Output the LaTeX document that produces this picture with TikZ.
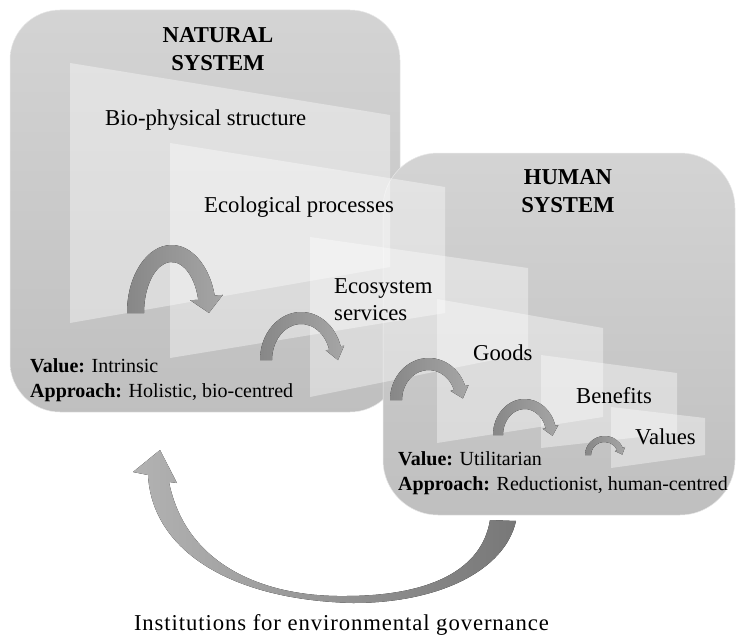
\documentclass[tikz,border=0pt]{standalone}
\usepackage{fontspec}
\setmainfont{Liberation Serif}
\usetikzlibrary{calc}
\tikzset{
  sysbox/.style={top color=black!17, bottom color=black!25, draw=black!9, line width=0.5pt},
  panel/.style={fill=white, fill opacity=0.38},
  loopfill/.style={left color=black!47, right color=black!35},
  govfill/.style={left color=black!30, right color=black!53},
  stage/.style={font=\fontsize{22.7}{27}\selectfont, inner sep=0pt, anchor=west, align=left},
  systitle/.style={font=\fontsize{22.7}{28}\selectfont\bfseries, inner sep=0pt, align=center},
  valnote/.style={font=\fontsize{20}{25}\selectfont, inner sep=0pt, anchor=west, align=left},
}
% curved arrow: centre x, base y, x radius, y radius, width, end angle, head half width, head length
\newcommand{\turnarrow}[8]{%
  \pgfmathsetmacro{\arEx}{#1+#3*cos(#6)}%
  \pgfmathsetmacro{\arEy}{#2+#4*sin(#6)}%
  \pgfmathsetmacro{\arL}{sqrt((#3*sin(#6))^2+(#4*cos(#6))^2)}%
  \pgfmathsetmacro{\arUx}{-#3*sin(#6)/\arL}%
  \pgfmathsetmacro{\arUy}{#4*cos(#6)/\arL}%
  \pgfmathsetmacro{\arIx}{#1+(#3-#5/2)*cos(#6)}%
  \pgfmathsetmacro{\arIy}{#2+(#4-#5/2)*sin(#6)}%
  \pgfmathsetmacro{\arSx}{#1-#3-#5/2}%
  \pgfmathsetmacro{\arRox}{#3+#5/2}\pgfmathsetmacro{\arRoy}{#4+#5/2}%
  \pgfmathsetmacro{\arRix}{#3-#5/2}\pgfmathsetmacro{\arRiy}{#4-#5/2}%
  \fill[loopfill] (\arSx,#2) arc[start angle=180, end angle=#6, x radius=\arRox, y radius=\arRoy]
    -- ({\arEx+#7*\arUy},{\arEy-#7*\arUx}) -- ({\arEx+#8*\arUx},{\arEy+#8*\arUy})
    -- ({\arEx-#7*\arUy},{\arEy+#7*\arUx}) -- (\arIx,\arIy)
    arc[start angle=#6, end angle=180, x radius=\arRix, y radius=\arRiy] -- cycle;
}

\begin{document}
\begin{tikzpicture}[x=1pt, y=-1pt]
  \useasboundingbox (0,0) rectangle (738,634);

  % feedback arrow
  \fill[govfill] (490,520) .. controls (482,570) and (430,596) .. (345,596)
    .. controls (265,597) and (186,566) .. (169,482) -- (177,483) -- (160,450)
    -- (133,472) -- (148,475) .. controls (152,550) and (230,600) .. (353,603)
    .. controls (440,603) and (505,570) .. (516,521) -- cycle;

  % the two systems
  \draw[sysbox, rounded corners=50pt] (10,10) rectangle (400,412);
  \draw[sysbox, rounded corners=55pt] (383,153) rectangle (735,515);

  % cascade planes
  \foreach \xl/\tl/\bl/\xr/\tr/\br in {70/63/323/390/115/267, 170/143/358/445/187/313,
      310/237/397/528/268/353, 437/299/443/603/328/417, 541/355/448/677/373/433,
      611/407/468/705/418/455}
    \fill[panel] (\xl,\tl) -- (\xr,\tr) -- (\xr,\br) -- (\xl,\bl) -- cycle;

  % steps between the planes
  \foreach \cx/\by/\ra/\rb/\w/\ea/\hw/\hl in {171.6/313/36.1/59.5/17/345/16.5/15.5,
      301.2/360/35.2/42/12/343.4/9.5/12.5, 428.7/400/32.7/36/12/340.5/9.5/11,
      524.7/435/26.7/31/10/345/8/9, 604.6/455/16.6/16/6/338/5.5/6}
    {\turnarrow{\cx}{\by}{\ra}{\rb}{\w}{\ea}{\hw}{\hl}}

  % labels
  \node[systitle] (natural) at (218,49) {NATURAL\\SYSTEM};
  \node[systitle] (human) at (568,191) {HUMAN\\SYSTEM};
  \node[stage] (bio) at (105,120) {Bio-physical structure};
  \node[stage] (eco) at (204,207) {Ecological processes};
  \node[stage] (ess) at (334,300) {Ecosystem\\services};
  \node[stage] (goods) at (473,353) {Goods};
  \node[stage] (benefits) at (576,396) {Benefits};
  \node[stage] (values) at (635,437) {Values};
  \node[valnote] (natval) at (30,380) {\textbf{Value:} Intrinsic\\\textbf{Approach:} Holistic, bio-centred};
  \node[valnote] (humval) at (398,473) {\textbf{Value:} Utilitarian\\\textbf{Approach:} Reductionist, human-centred};
  \node[font=\fontsize{22.7}{27}\selectfont\addfontfeature{LetterSpace=4}, inner sep=0pt, anchor=base]
    (gov) at (341.5,630) {Institutions for environmental governance};
\end{tikzpicture}
\end{document}
